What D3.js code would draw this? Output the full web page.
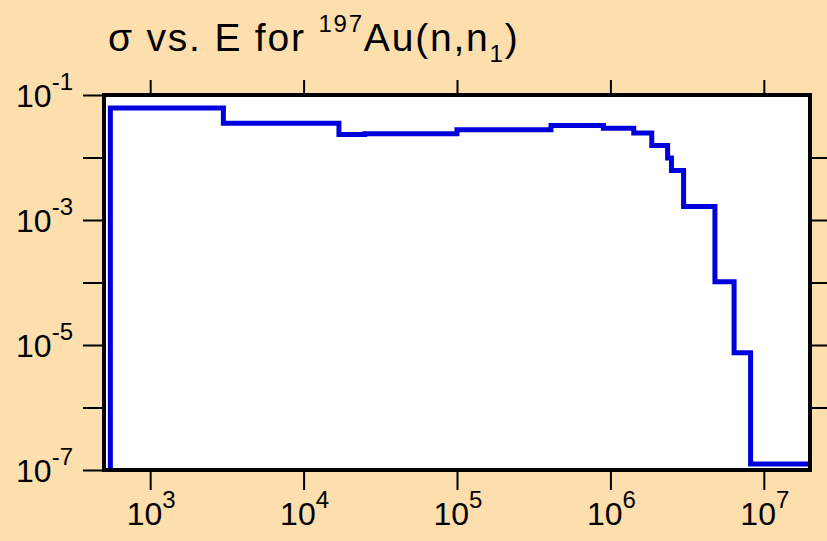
<!DOCTYPE html>
<html><head><meta charset="utf-8">
<script src="https://cdn.jsdelivr.net/npm/d3@7"></script>
<style>html,body{margin:0;padding:0;background:#FDDEAD;overflow:hidden}</style>
</head><body>
<svg id="chart" width="827" height="541"></svg>
<script>
// Bin lower edges (eV) and cross sections (barn) for 197Au(n,n1)
const energyEdges = [550, 3000, 17000, 25000, 1.0e5, 4.1e5, 9.0e5, 1.42e6, 1.86e6, 2.36e6, 2.5e6, 3.0e6, 4.8e6, 6.4e6, 8.2e6];
const sigmaValues = [0.062, 0.0352, 0.0233, 0.0239, 0.0279, 0.0325, 0.0293, 0.0247, 0.0156, 0.0098, 0.0062, 0.00164, 1.03e-4, 7.5e-6, 1.25e-7];
const energyEnd = 2e7;
const xDomain = [500, 2e7];
const yDomain = [1e-7, 1e-1];
const xTickValues = [1e3, 1e4, 1e5, 1e6, 1e7];
const xTickExponents = ["3", "4", "5", "6", "7"];
const yTickValues = [1e-1, 1e-3, 1e-5, 1e-7];
const yTickExponents = ["-1", "-3", "-5", "-7"];
const yAllTicks = [1e-1, 1e-2, 1e-3, 1e-4, 1e-5, 1e-6, 1e-7];
const yRightTicks = [1e-2, 1e-3, 1e-4, 1e-5, 1e-6];

const svg = d3.select("#chart");
const L = 104, R = 810, T = 95, B = 470;
const x = d3.scaleLog().domain(xDomain).range([L, R]);
const y = d3.scaleLog().domain(yDomain).range([B, T]);

svg.append("rect").attr("width", 827).attr("height", 541).attr("fill", "#FDDEAD");
svg.append("rect").attr("x", L).attr("y", T).attr("width", R - L).attr("height", B - T).attr("fill", "#fff");

svg.append("defs").append("clipPath").attr("id", "clip")
  .append("rect").attr("x", L).attr("y", T).attr("width", R - L).attr("height", B - T);

const pts = [[energyEdges[0], yDomain[0]]]
  .concat(energyEdges.map((e, i) => [e, sigmaValues[i]]))
  .concat([[energyEnd, sigmaValues[sigmaValues.length - 1]]]);
const line = d3.line().x(d => x(d[0])).y(d => y(d[1])).curve(d3.curveStepAfter);
svg.append("path").attr("d", line(pts)).attr("fill", "none")
  .attr("stroke", "#0000dc").attr("stroke-width", 5).attr("stroke-linejoin", "miter")
  .attr("clip-path", "url(#clip)");

function styleAxis(g) {
  g.select(".domain").remove();
  g.selectAll(".tick line").attr("stroke", "#000").attr("stroke-width", 2);
  g.selectAll(".tick text").remove();
}
svg.append("g").attr("transform", `translate(0,${B})`)
  .call(d3.axisBottom(x).tickValues(xTickValues).tickSize(20).tickFormat(""))
  .call(styleAxis);
svg.append("g").attr("transform", `translate(0,${T})`)
  .call(d3.axisTop(x).tickValues(xTickValues).tickSize(15).tickFormat(""))
  .call(styleAxis);
svg.append("g").attr("transform", `translate(${L},0)`)
  .call(d3.axisLeft(y).tickValues(yAllTicks).tickSize(21).tickFormat(""))
  .call(styleAxis);
svg.append("g").attr("transform", `translate(${R},0)`)
  .call(d3.axisRight(y).tickValues(yRightTicks).tickSize(20).tickFormat(""))
  .call(styleAxis);

svg.append("rect").attr("x", L).attr("y", T).attr("width", R - L).attr("height", B - T)
  .attr("fill", "none").attr("stroke", "#000").attr("stroke-width", 4);

const font = "'Liberation Sans', Arial, Helvetica, sans-serif";
// x labels
xTickValues.forEach((v, i) => {
  const t = svg.append("text").attr("x", x(v) + 1).attr("y", 525)
    .attr("text-anchor", "middle").attr("font-family", font).attr("font-size", 32).attr("fill", "#000");
  t.append("tspan").text("10");
  t.append("tspan").attr("font-size", 24).attr("dy", -17).text(xTickExponents[i]);
});
// y labels
yTickValues.forEach((v, i) => {
  const t = svg.append("text").attr("x", 73).attr("y", y(v) + 12)
    .attr("text-anchor", "end").attr("font-family", font).attr("font-size", 32).attr("fill", "#000");
  t.append("tspan").text("10");
  t.append("tspan").attr("font-size", 24).attr("dy", -17).text(yTickExponents[i]);
});
// title
const title = svg.append("text").attr("x", 108).attr("y", 51)
  .attr("font-family", font).attr("font-size", 39).attr("letter-spacing", 1.8).attr("fill", "#000");
title.append("tspan").text("σ vs. E for ");
title.append("tspan").attr("font-size", 24).attr("dy", -19).text("197");
title.append("tspan").attr("dy", 19).text("Au(n,n");
title.append("tspan").attr("font-size", 24).attr("dy", 11).text("1");
title.append("tspan").attr("dy", -11).text(")");
</script>
</body></html>
